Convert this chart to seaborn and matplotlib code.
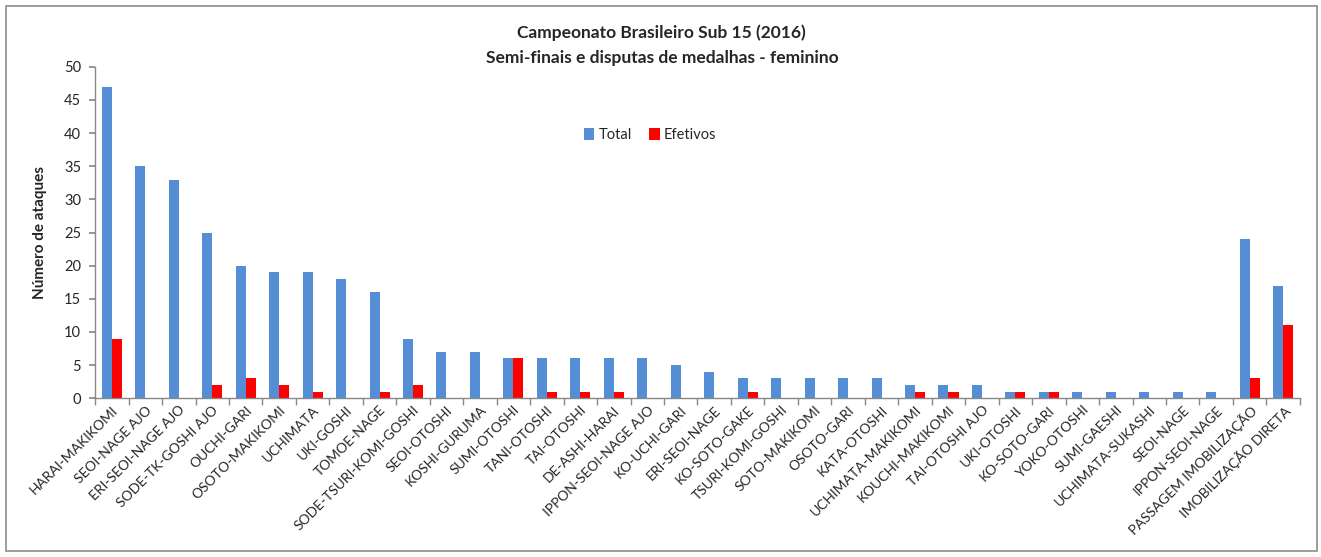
import matplotlib
matplotlib.use("Agg")
import matplotlib.pyplot as plt
import seaborn as sns
import pandas as pd
from matplotlib.patches import Rectangle

categories = [
    "HARAI-MAKIKOMI", "SEOI-NAGE AJO", "ERI-SEOI-NAGE AJO", "SODE-TK-GOSHI AJO",
    "OUCHI-GARI", "OSOTO-MAKIKOMI", "UCHIMATA", "UKI-GOSHI", "TOMOE-NAGE",
    "SODE-TSURI-KOMI-GOSHI", "SEOI-OTOSHI", "KOSHI-GURUMA", "SUMI-OTOSHI",
    "TANI-OTOSHI", "TAI-OTOSHI", "DE-ASHI-HARAI", "IPPON-SEOI-NAGE AJO",
    "KO-UCHI-GARI", "ERI-SEOI-NAGE", "KO-SOTO-GAKE", "TSURI-KOMI-GOSHI",
    "SOTO-MAKIKOMI", "OSOTO-GARI", "KATA-OTOSHI", "UCHIMATA-MAKIKOMI",
    "KOUCHI-MAKIKOMI", "TAI-OTOSHI AJO", "UKI-OTOSHI", "KO-SOTO-GARI",
    "YOKO-OTOSHI", "SUMI-GAESHI", "UCHIMATA-SUKASHI", "SEOI-NAGE",
    "IPPON-SEOI-NAGE", "PASSAGEM IMOBILIZAÇÃO", "IMOBILIZAÇÃO DIRETA",
]
total = [47, 35, 33, 25, 20, 19, 19, 18, 16, 9, 7, 7, 6, 6, 6, 6, 6, 5,
         4, 3, 3, 3, 3, 3, 2, 2, 2, 1, 1, 1, 1, 1, 1, 1, 24, 17]
efetivos = [9, 0, 0, 2, 3, 2, 1, 0, 1, 2, 0, 0, 6, 1, 1, 1, 0, 0,
            0, 1, 0, 0, 0, 0, 1, 1, 0, 1, 1, 0, 0, 0, 0, 0, 3, 11]
series = ["Total", "Efetivos"]
colors = ["#558ED5", "#FF0000"]

df = pd.DataFrame({
    "tecnica": categories * 2,
    "valor": total + efetivos,
    "serie": [series[0]] * len(categories) + [series[1]] * len(categories),
})

sns.set_theme(style="white")
plt.rcParams["font.family"] = ["Lato", "DejaVu Sans"]

fig = plt.figure(figsize=(13.21, 5.57), dpi=100)
ax = fig.add_axes([0.072, 0.285, 0.912, 0.595])

sns.barplot(data=df, x="tecnica", y="valor", hue="serie", palette=colors,
            width=0.6, ax=ax, order=categories, hue_order=series,
            saturation=1, legend=True, linewidth=0)

ax.set_ylim(0, 50)
ax.set_yticks(range(0, 51, 5))
ax.set_xlim(-0.5, len(categories) - 0.5)
ax.set_xlabel("")
ax.set_ylabel("Número de ataques", fontsize=11, fontweight="bold", labelpad=12)

ax.tick_params(axis="y", labelsize=10.5, length=4, color="#888888", direction="out", left=True, pad=6)
ax.set_xticks(range(len(categories)))
ax.set_xticklabels(categories, rotation=45, ha="right", rotation_mode="anchor", fontsize=10)
ax.tick_params(axis="x", which="major", length=0, pad=4)
ax.set_xticks([i - 0.5 for i in range(len(categories) + 1)], minor=True)
ax.tick_params(axis="x", which="minor", length=5, color="#888888", direction="out", bottom=True)

for s in ["top", "right"]:
    ax.spines[s].set_visible(False)
for s in ["left", "bottom"]:
    ax.spines[s].set_color("#888888")
    ax.spines[s].set_linewidth(1)

leg = ax.legend(loc="center left", bbox_to_anchor=(0.395, 0.795), ncol=2, frameon=False,
                fontsize=10.5, handlelength=0.7, handleheight=0.9, handletextpad=0.3,
                columnspacing=1.2, title=None)

fig.text(0.501, 0.942, "Campeonato Brasileiro Sub 15 (2016)", ha="center", va="center",
         fontsize=12.5, fontweight="bold")
fig.text(0.501, 0.895, "Semi-finais e disputas de medalhas - feminino", ha="center", va="center",
         fontsize=12.5, fontweight="bold")

fig.patches.append(Rectangle((6 / 1321, 6 / 557), 1311 / 1321, 545 / 557,
                             transform=fig.transFigure, fill=False,
                             edgecolor="#8c8c8c", linewidth=1.2))

fig.savefig("out.png", dpi=100)
